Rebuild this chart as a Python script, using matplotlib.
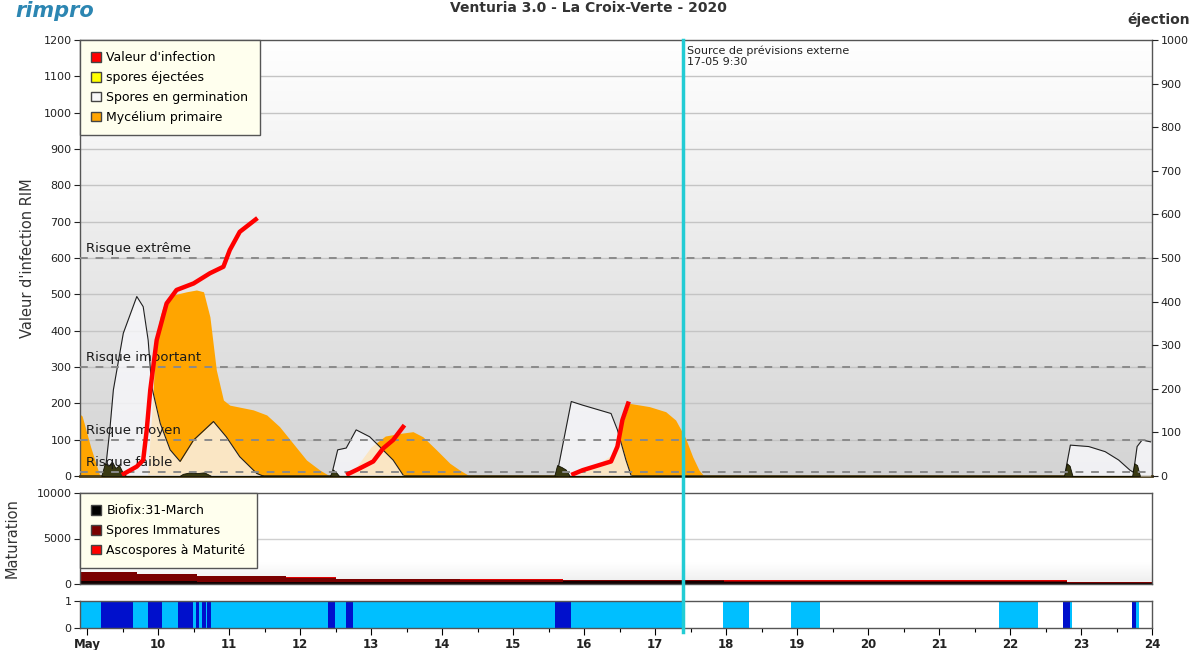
import numpy as np
import matplotlib
matplotlib.use("Agg")
import matplotlib.pyplot as plt
import matplotlib.transforms as mtransforms
from matplotlib.patches import Patch
from matplotlib.lines import Line2D

# ---------------- data ----------------
day_ticks = [9, 10, 11, 12, 13, 14, 15, 16, 17, 18, 19, 20, 21, 22, 23, 24]
day_labels = ["May", "10", "11", "12", "13", "14", "15", "16", "17", "18",
              "19", "20", "21", "22", "23", "24"]

# Mycélium primaire (orange)
myc_x = [8.90, 8.93, 9.05, 9.18,
         9.85, 9.92, 9.97, 10.03, 10.07, 10.21, 10.40, 10.54, 10.64, 10.73, 10.82,
         10.92, 11.01, 11.34, 11.53, 11.71, 11.90, 12.09, 12.28, 12.42,
         12.70, 12.85, 13.00, 13.20, 13.40, 13.59, 13.73, 13.92, 14.11, 14.25, 14.39,
         15.85, 16.10, 16.40, 16.55, 16.64, 16.92, 17.15, 17.29, 17.43, 17.53, 17.62, 17.69]
myc_y = [170, 165, 80, 0,
         0, 200, 380, 440, 466, 498, 507, 512, 507, 438, 292,
         209, 195, 182, 168, 136, 90, 44, 16, 0,
         0, 40, 80, 110, 117, 122, 108, 72, 35, 16, 0,
         0, 20, 60, 150, 200, 191, 177, 154, 104, 53, 16, 0]

# Spores en germination
germ_x = [9.25, 9.32, 9.37, 9.51, 9.70, 9.79, 9.86, 9.91, 10.03, 10.17, 10.31,
          10.50, 10.78, 10.96, 11.15, 11.39, 11.48,
          12.46, 12.53, 12.65, 12.79, 12.98, 13.12, 13.31, 13.45,
          15.63, 15.82, 15.98, 16.38, 16.47, 16.59, 16.66,
          22.78, 22.85, 23.11, 23.34, 23.53, 23.69, 23.74, 23.79, 23.86, 23.98]
germ_y = [3, 127, 237, 393, 494, 466, 374, 246, 145, 72, 40,
          99, 150, 108, 53, 7, 0,
          16, 72, 77, 127, 108, 81, 44, 3,
          16, 205, 195, 172, 127, 44, 3,
          12, 85, 81, 67, 44, 16, 10, 81, 99, 94]
germ_groups = [(0, 17), (17, 25), (25, 32), (32, 42)]

# spores éjectées (small dark bumps at the base)
ej_x = [9.20, 9.25, 9.30, 9.35, 9.40, 9.45, 9.50, 9.55,
        10.30, 10.35, 10.45, 10.55, 10.65, 10.75,
        12.42, 12.46, 12.50, 12.55,
        15.58, 15.62, 15.68, 15.74, 15.80,
        22.76, 22.80, 22.84, 22.88,
        23.72, 23.75, 23.79, 23.83]
ej_y = [0, 35, 28, 40, 22, 30, 10, 0,
        0, 6, 10, 8, 10, 0,
        0, 18, 12, 0,
        0, 30, 25, 18, 0,
        0, 35, 28, 0,
        0, 35, 30, 0]

# Valeur d'infection (red line), three segments
inf1_x = [9.49, 9.70, 9.79, 9.84, 9.89, 9.98, 10.12, 10.26, 10.50, 10.73, 10.92, 11.01, 11.15, 11.40]
inf1_y = [3, 26, 44, 127, 237, 374, 475, 512, 530, 558, 576, 622, 672, 710]
inf2_x = [12.65, 12.84, 13.03, 13.17, 13.31, 13.47]
inf2_y = [3, 21, 40, 76, 99, 140]
inf3_x = [15.82, 15.98, 16.38, 16.47, 16.54, 16.63]
inf3_y = [3, 16, 40, 81, 154, 205]

risk_levels = [12, 100, 300, 600]
risk_labels = ["Risque faible", "Risque moyen", "Risque important", "Risque extrême"]

# Maturation (stacked steps)
mat_edges = [8.9, 9.7, 10.55, 11.8, 12.5, 14.25, 15.7, 17.97, 22.8, 24.0]
mat_biofix = [300, 300, 250, 250, 200, 200, 300, 250, 150]
mat_immature = [1000, 800, 650, 400, 400, 250, 140, 50, 100]
mat_mature = [0, 0, 0, 150, 0, 150, 0, 150, 0]

# Bottom strip (0 = white, 1 = light blue, 2 = dark blue)
strip_edges = [8.9, 9.19, 9.64, 9.86, 10.06, 10.28, 10.49, 10.54, 10.58, 10.62, 10.67,
               10.69, 10.74, 12.39, 12.49, 12.65, 12.74, 15.59, 15.81, 17.40, 17.96,
               18.33, 18.92, 19.33, 21.84, 22.39, 22.75, 22.84, 22.88, 23.72, 23.78,
               23.81, 24.0]
strip_codes = [1, 2, 1, 2, 1, 2, 1, 2, 1, 2, 1, 2, 1, 2, 1, 2, 1, 2, 1, 0,
               1, 0, 1, 0, 1, 0, 2, 1, 0, 2, 1, 0]

forecast_day = 17 + 9.5 / 24  # 17-05 9:30

# ---------------- figure ----------------
W, H = 1200, 650
fig = plt.figure(figsize=(12, 6.5), dpi=100)
fig.patch.set_facecolor("white")

def fx(px):
    return px / W

def fy(py):
    return 1 - py / H

xmin, xmax = 8.9, 24.0
left, right = 80, 1152
ax = fig.add_axes([fx(left), fy(476), fx(right - left), (476 - 40) / H])
axm = fig.add_axes([fx(left), fy(584), fx(right - left), (584 - 493) / H])
axs = fig.add_axes([fx(left), fy(628), fx(right - left), (628 - 601) / H])

# ---- main axes ----
ax.set_xlim(xmin, xmax)
ax.set_ylim(0, 1200)
grad = np.linspace(0.83, 1.0, 256).reshape(-1, 1)
ax.imshow(np.dstack([grad, grad, grad]), extent=[xmin, xmax, 0, 1200], aspect="auto",
          origin="lower", zorder=0)
for v in range(100, 1200, 100):
    ax.axhline(v, color="#c4c4c4", lw=1.0, zorder=1)

ax.fill_between(myc_x, myc_y, 0, color="#FFA500", lw=0, zorder=2)
for a, b in germ_groups:
    gx = germ_x[a:b]
    gy = germ_y[a:b]
    ax.fill_between(gx, gy, 0, color=(0.975, 0.975, 0.99), alpha=0.78, lw=0, zorder=3)
    ax.plot(gx, gy, color="#202020", lw=0.8, zorder=4)
ax.fill_between(ej_x, ej_y, 0, color="#3a3a12", lw=0.6, edgecolor="#101000", zorder=5)

for v, lab in zip(risk_levels, risk_labels):
    ax.axhline(v, color="#8a8a8a", lw=1.4, ls=(0, (4, 4)), zorder=6)
    ax.text(8.99, v + 8, lab, fontsize=9.5, color="#1a1a1a", va="bottom", ha="left", zorder=7)

for xs, ys in [(inf1_x, inf1_y), (inf2_x, inf2_y), (inf3_x, inf3_y)]:
    ax.plot(xs, ys, color="#FF0000", lw=3.2, solid_capstyle="butt", zorder=8)

ax.set_yticks(range(0, 1201, 100))
ax.tick_params(axis="y", labelsize=8, length=4, width=0.8, colors="#222222", pad=2)
ax.tick_params(axis="x", bottom=False, labelbottom=False)
ax.set_xticks(day_ticks)
for s in ["left", "top", "right"]:
    ax.spines[s].set_color("#555555")
    ax.spines[s].set_linewidth(1.0)
ax.spines["bottom"].set_color("#4a3c18")
ax.spines["bottom"].set_linewidth(2.0)
ax.set_ylabel("Valeur d'infection RIM", fontsize=10.5, color="#333333", labelpad=6)

ax2 = ax.twinx()
ax2.set_ylim(0, 1000)
ax2.set_yticks(range(0, 1001, 100))
ax2.tick_params(axis="y", labelsize=8, length=4, width=0.8, colors="#222222", pad=2)
for s in ["left", "top", "right", "bottom"]:
    ax2.spines[s].set_visible(False)

leg_kw = dict(loc="upper left", bbox_to_anchor=(0, 1), borderaxespad=0, fontsize=9,
              frameon=True, fancybox=False, handlelength=0.8, handleheight=0.8,
              handletextpad=0.4, labelspacing=0.55, borderpad=0.9, framealpha=1)

leg_handles = [
    Patch(facecolor="#FF0000", edgecolor="#444444", label="Valeur d'infection"),
    Patch(facecolor="#FFFF00", edgecolor="#444444", label="spores éjectées"),
    Patch(facecolor="#F8F8F8", edgecolor="#444444", label="Spores en germination"),
    Patch(facecolor="#FFA500", edgecolor="#444444", label="Mycélium primaire"),
]
leg = ax.legend(handles=leg_handles, **leg_kw)
leg.get_frame().set_facecolor("#FFFFEE")
leg.get_frame().set_edgecolor("#555555")
leg.get_frame().set_linewidth(1.0)
leg.set_zorder(10)

ax.text(forecast_day + 0.06, 1185, "Source de prévisions externe\n17-05 9:30",
        fontsize=8, color="#222222", va="top", ha="left", zorder=9, linespacing=1.1)

# ---- maturation axes ----
axm.set_xlim(xmin, xmax)
axm.set_ylim(0, 10000)
gm = np.concatenate([np.linspace(0.93, 1.0, 60), np.ones(196)]).reshape(-1, 1)
axm.imshow(np.dstack([gm, gm, gm]), extent=[xmin, xmax, 0, 10000], aspect="auto",
           origin="lower", zorder=0)
axm.axhline(5000, color="#d0d0d0", lw=1.0, zorder=1)
b0 = np.zeros(len(mat_biofix))
b1 = np.array(mat_biofix, dtype=float)
b2 = b1 + np.array(mat_immature)
b3 = b2 + np.array(mat_mature)
axm.stairs(b1, mat_edges, baseline=b0, fill=True, color="#120000", zorder=2)
axm.stairs(b2, mat_edges, baseline=b1, fill=True, color="#7A0000", zorder=2)
axm.stairs(b3, mat_edges, baseline=b2, fill=True, color="#E00000", zorder=2)
axm.set_yticks([0, 5000, 10000])
axm.tick_params(axis="y", labelsize=8, length=4, width=0.8, colors="#222222", pad=2)
axm.tick_params(axis="x", bottom=False, labelbottom=False)
for s in axm.spines.values():
    s.set_color("#555555")
    s.set_linewidth(1.0)
axm.set_ylabel("Maturation", fontsize=10.5, color="#333333", labelpad=12)

mleg_handles = [
    Patch(facecolor="#000000", edgecolor="#444444", label="Biofix:31-March"),
    Patch(facecolor="#7A0000", edgecolor="#444444", label="Spores Immatures"),
    Patch(facecolor="#FF0000", edgecolor="#444444", label="Ascospores à Maturité"),
]
mleg = axm.legend(handles=mleg_handles, **leg_kw)
mleg.get_frame().set_facecolor("#FFFFEE")
mleg.get_frame().set_edgecolor("#555555")
mleg.set_zorder(10)

# ---- strip axes ----
axs.set_xlim(xmin, xmax)
axs.set_ylim(0, 1)
strip_colors = {0: "#FFFFFF", 1: "#00BFFF", 2: "#0010CC"}
for i, c in enumerate(strip_codes):
    axs.axvspan(strip_edges[i], strip_edges[i + 1], ymin=0, ymax=1,
                color=strip_colors[c], lw=0, zorder=1)
axs.set_yticks([0, 1])
axs.tick_params(axis="y", labelsize=8, length=4, width=0.8, colors="#222222", pad=2)
axs.set_xticks(day_ticks)
axs.set_xticklabels(day_labels, fontsize=8.5, fontweight="bold", color="#222222")
axs.set_xticks([d + 0.5 for d in day_ticks[:-1]], minor=True)
axs.tick_params(axis="x", which="major", length=5, width=0.8, pad=2)
axs.tick_params(axis="x", which="minor", length=3, width=0.8)
for s in axs.spines.values():
    s.set_color("#555555")
    s.set_linewidth(1.0)

# ---- forecast vertical line across panels ----
trans = mtransforms.blended_transform_factory(ax.transData, fig.transFigure)
fig.add_artist(Line2D([forecast_day, forecast_day], [fy(632), fy(40)], transform=trans,
                      color="#22CCD4", lw=2.5, zorder=20))

# ---- header texts ----
fig.text(0.013, 0.999, "rimpro", fontsize=15, fontweight="bold", fontstyle="italic",
         color="#2C86B2", ha="left", va="top")
fig.text(0.49, 0.999, "Venturia 3.0 - La Croix-Verte - 2020", fontsize=10,
         fontweight="bold", color="#333333", ha="center", va="top")
fig.text(fx(1190), fy(20), "éjection", fontsize=10, fontweight="bold", color="#333333",
         ha="right", va="center")

fig.savefig("out.png", dpi=100)
